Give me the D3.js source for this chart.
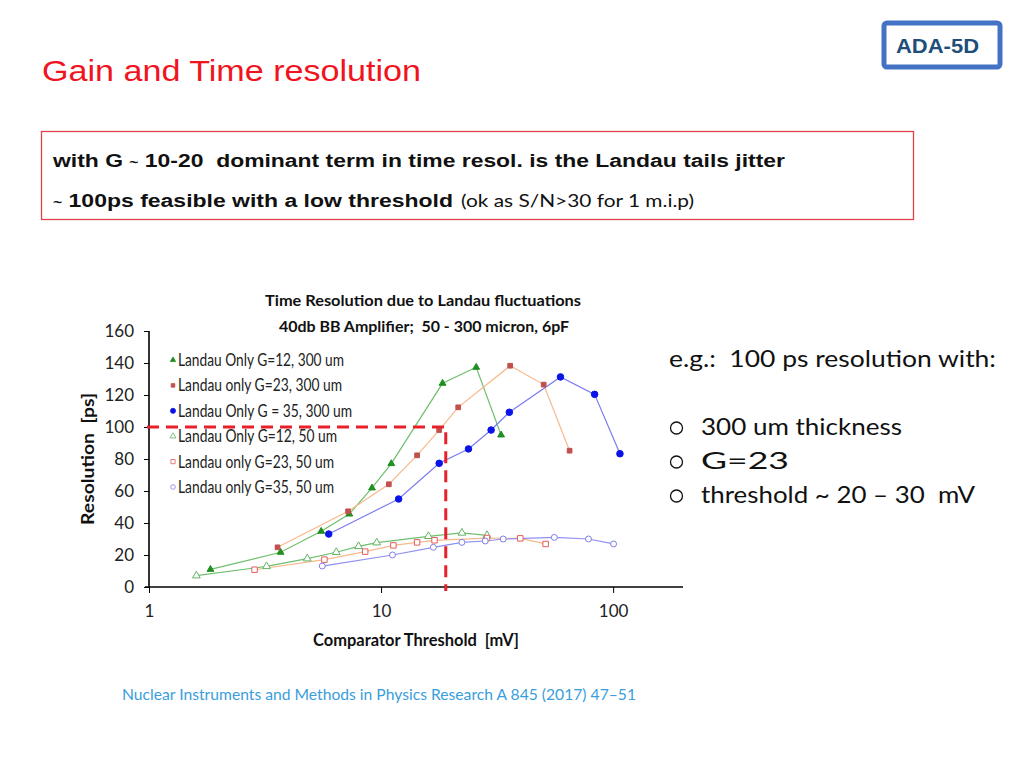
<!DOCTYPE html>
<html>
<head>
<meta charset="utf-8">
<script src="https://cdn.jsdelivr.net/npm/d3@7"></script>
<style>
  body { margin: 0; background: #fff; }
  text { white-space: pre; }
</style>
</head>
<body>
<div id="wrap"></div>
<script>
// data: [threshold mV, resolution ps]
const g12_300 = [[1.84, 11.0], [3.69, 21.7], [5.52, 34.8], [7.3, 45.6], [9.14, 61.9], [11.07, 77.1], [18.4, 127.3], [25.7, 137.3], [32.9, 95.0]];
const g23_300 = [[3.58, 24.8], [7.21, 47.3], [10.8, 64.2], [14.3, 82.3], [17.8, 98.1], [21.5, 112.3], [36.0, 138.3], [50.2, 126.5], [64.9, 85.2]];
const g35_300 = [[5.95, 33.1], [11.9, 55.0], [17.8, 77.3], [23.8, 86.3], [29.8, 98.1], [35.7, 109.2], [59.3, 131.3], [83.2, 120.4], [107, 83.3]];
const g12_50 = [[1.6, 7.1], [3.21, 12.9], [4.81, 17.7], [6.41, 21.7], [8.0, 25.4], [9.58, 27.7], [16.0, 31.7], [22.3, 33.8], [28.6, 32.3]];
const g23_50 = [[2.85, 10.8], [5.7, 17.1], [8.54, 22.1], [11.3, 26.0], [14.3, 27.9], [17.0, 29.2], [28.6, 30.6], [39.8, 30.4], [51.2, 26.9]];
const g35_50 = [[5.58, 13.1], [11.2, 20.0], [16.8, 24.8], [22.3, 27.9], [28.1, 28.75], [33.6, 30.0], [55.8, 31.0], [78.3, 30.0], [100.4, 26.9]];

const seriesNames = [
  "Landau Only G=12, 300 um",
  "Landau only G=23, 300 um",
  "Landau Only G = 35, 300 um",
  "Landau Only G=12, 50 um",
  "Landau only G=23, 50 um",
  "Landau only G=35, 50 um"
];
const yTicks = [0, 20, 40, 60, 80, 100, 120, 140, 160];
const xTicks = [1, 10, 100];
const marker100 = [19, 100]; // red dashed guide: threshold, resolution

const width = 1024;
const height = 768;
let svg = d3.select("#wrap")
  .append("svg")
  .attr("width", width)
  .attr("height", height)
  .style("font-family", "'Liberation Sans', Arial, sans-serif");

// the slide text is a bit stretched sideways, so fit widths
function fit(sel, w) {
  return sel.attr("textLength", w).attr("lengthAdjust", "spacingAndGlyphs");
}

svg.append("rect").attr("width", width).attr("height", height).attr("fill", "#fff");

// slide header
fit(svg.append("text")
  .attr("x", 42).attr("y", 81)
  .attr("fill", "#f0141e")
  .attr("font-size", 30)
  .text("Gain and Time resolution"), 379);

svg.append("rect")
  .attr("x", 884).attr("y", 23).attr("width", 116).attr("height", 44)
  .attr("rx", 3)
  .attr("fill", "#fff").attr("stroke", "#4472c4").attr("stroke-width", 5);
fit(svg.append("text")
  .attr("x", 896).attr("y", 53)
  .attr("fill", "#1f4e79")
  .attr("font-weight", "bold")
  .attr("font-size", 20)
  .text("ADA-5D"), 83);

// boxed text
svg.append("rect")
  .attr("x", 41.5).attr("y", 131.5).attr("width", 872).attr("height", 88)
  .attr("fill", "none").attr("stroke", "#e0444a").attr("stroke-width", 1.3);
let line1 = svg.append("text")
  .attr("x", 53).attr("y", 167)
  .attr("font-weight", "bold").attr("font-size", 17.5)
  .attr("fill", "#111");
line1.append("tspan").text("with G ");
line1.append("tspan").attr("font-size", 12).text("~");
line1.append("tspan").text(" 10-20  dominant term in time resol. is the Landau tails jitter");
fit(line1, 732);

let line2 = svg.append("text")
  .attr("x", 53).attr("y", 207)
  .attr("font-weight", "bold").attr("font-size", 17.5)
  .attr("fill", "#111");
line2.append("tspan").attr("font-size", 12).text("~");
line2.append("tspan").text(" 100ps feasible with a low threshold");
fit(line2, 400);
fit(svg.append("text")
  .attr("x", 461).attr("y", 207)
  .attr("font-family", "Lato, sans-serif").attr("font-size", 18)
  .attr("fill", "#111")
  .text("(ok as S/N>30 for 1 m.i.p)"), 233);

// right hand notes
const notes = svg.append("g").attr("font-family", "Lato, sans-serif").attr("font-size", 23).attr("fill", "#111");
fit(notes.append("text").attr("x", 669).attr("y", 367).text("e.g.:  100 ps resolution with:"), 327);
[["300 um thickness", 435, 201], ["G=23", 469, 88], ["threshold ~ 20 \u2013 30  mV", 503, 274]].forEach(d => {
  notes.append("circle").attr("cx", 676.5).attr("cy", d[1] - 7).attr("r", 6)
    .attr("fill", "none").attr("stroke", "#111").attr("stroke-width", 1.3);
  fit(notes.append("text").attr("x", 701).attr("y", d[1]).text(d[0]), d[2]);
});

fit(svg.append("text")
  .attr("x", 122).attr("y", 700)
  .attr("font-family", "Lato, sans-serif").attr("font-size", 15)
  .attr("fill", "#3a9edb")
  .text("Nuclear Instruments and Methods in Physics Research A 845 (2017) 47\u201351"), 514);

// chart
const chartFont = "Lato, sans-serif";
let xScale = d3.scaleLog().domain([1, 200]).range([149, 683]);
let yScale = d3.scaleLinear().domain([0, 160]).range([587, 331]);

const chart = svg.append("g").style("font-family", chartFont);

fit(chart.append("text")
  .attr("x", 265).attr("y", 306)
  .attr("font-weight", "bold").attr("font-size", 16).attr("fill", "#111")
  .text("Time Resolution due to Landau fluctuations"), 316);
fit(chart.append("text")
  .attr("x", 279).attr("y", 332)
  .attr("font-weight", "bold").attr("font-size", 16).attr("fill", "#111")
  .text("40db BB Amplifier;  50 - 300 micron, 6pF"), 290);

const yAxis = d3.axisLeft(yScale).tickValues(yTicks).tickSize(5).tickPadding(10);
const gy = chart.append("g").attr("transform", "translate(149,0)").call(yAxis);
gy.select(".domain").attr("stroke-width", 1.6).attr("d", "M0,331V587");
gy.selectAll("text").attr("font-size", 17).attr("font-family", chartFont).attr("fill", "#222");

const xAxis = d3.axisBottom(xScale).tickValues(xTicks).tickFormat(d3.format("d")).tickSize(6).tickPadding(12);
const gx = chart.append("g").attr("transform", "translate(0,587)").call(xAxis);
gx.select(".domain").attr("stroke-width", 1.6).attr("d", "M145,0H683");
gx.selectAll("text").attr("font-size", 17).attr("font-family", chartFont).attr("fill", "#222");

fit(chart.append("text")
  .attr("x", 313).attr("y", 646)
  .attr("font-weight", "bold").attr("font-size", 16.5).attr("fill", "#111")
  .text("Comparator Threshold  [mV]"), 206);
fit(chart.append("text")
  .attr("transform", "translate(94,525) rotate(-90)")
  .attr("font-weight", "bold").attr("font-size", 16.5).attr("fill", "#111")
  .text("Resolution  [ps]"), 132);

// series styling
const series = [
  { data: g12_300, line: "#6fbf6f", stroke: "#1f8f1f", fill: "#1f8f1f", type: d3.symbolTriangle, size: 20 },
  { data: g23_300, line: "#f7b98c", stroke: "#c0504d", fill: "#c0504d", type: d3.symbolSquare, size: 22 },
  { data: g35_300, line: "#7b7bf2", stroke: "#0a14e6", fill: "#0a14e6", type: d3.symbolCircle, size: 34 },
  { data: g12_50, line: "#6fbf6f", stroke: "#66b266", fill: "#fff", type: d3.symbolTriangle, size: 26 },
  { data: g23_50, line: "#f7b98c", stroke: "#e35d5d", fill: "#fff", type: d3.symbolSquare, size: 30 },
  { data: g35_50, line: "#8f8ff0", stroke: "#7f7fe8", fill: "#fff", type: d3.symbolCircle, size: 28 }
];
const legendWidths = [166, 164, 174, 159, 156, 156];

const line = d3.line().x(d => xScale(d[0])).y(d => yScale(d[1]));

series.forEach(s => {
  chart.append("path")
    .datum(s.data)
    .attr("d", line)
    .attr("fill", "none")
    .attr("stroke", s.line)
    .attr("stroke-width", 1.2);
});
series.forEach(s => {
  chart.selectAll(null)
    .data(s.data)
    .enter()
    .append("path")
    .attr("transform", d => `translate(${xScale(d[0])},${yScale(d[1])})`)
    .attr("d", d3.symbol().type(s.type).size(s.size))
    .attr("fill", s.fill)
    .attr("stroke", s.stroke)
    .attr("stroke-width", 1);
});

// legend
const legend = chart.append("g");
seriesNames.forEach((name, i) => {
  const s = series[i];
  const yy = 360 + i * 25.4;
  legend.append("path")
    .attr("transform", `translate(173,${yy})`)
    .attr("d", d3.symbol().type(s.type).size(s.size * 0.6))
    .attr("fill", s.fill).attr("stroke", s.stroke).attr("stroke-width", 0.8);
  fit(legend.append("text")
    .attr("x", 178).attr("y", yy + 6)
    .attr("font-size", 16.5).attr("fill", "#222")
    .text(name), legendWidths[i]);
});

// red dashed guide at 100 ps
chart.append("path")
  .attr("d", `M${xScale(1) - 2},${yScale(marker100[1])}H${xScale(marker100[0])}V${yScale(0) + 4}`)
  .attr("fill", "none")
  .attr("stroke", "#e8202a")
  .attr("stroke-width", 3)
  .attr("stroke-dasharray", "12,7");
</script>
</body>
</html>
